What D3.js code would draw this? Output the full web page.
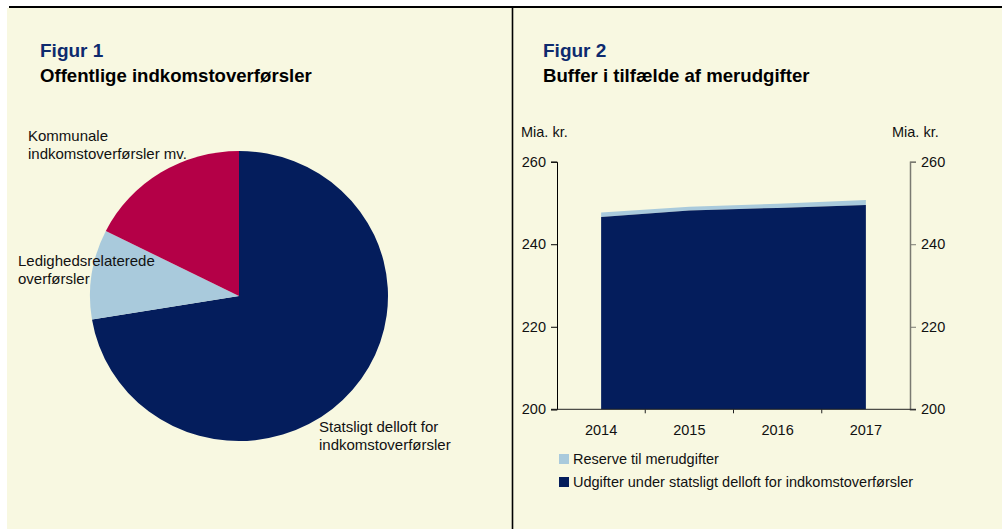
<!DOCTYPE html>
<html>
<head>
<meta charset="utf-8">
<script src="https://cdn.jsdelivr.net/npm/d3@7"></script>
<style>
body { margin: 0; background: #fff; }
text { font-family: "Liberation Sans", Arial, sans-serif; fill: #111; }
</style>
</head>
<body>
<svg id="chart" width="1002" height="529"></svg>
<script>
// Figur 1 - pie shares (pct)
var pieLabels = ['Statsligt delloft for indkomstoverførsler', 'Ledighedsrelaterede overførsler', 'Kommunale indkomstoverførsler mv.'];
var pieValues = [72.4, 10.0, 17.6];
var pieColors = ['#041d5c', '#a9cadc', '#b40047'];

// Figur 2 - area values (mia. kr.)
var years = ['2014', '2015', '2016', '2017'];
var udgifter = [246.6, 248.2, 248.8, 249.5];
var reserve = [1.1, 0.9, 1.0, 1.2];
var yTicks = [200, 220, 240, 260];

var svg = d3.select('#chart');

// background
svg.append('rect').attr('x', 7).attr('y', 8).attr('width', 995).attr('height', 521).attr('fill', '#f8f8e1');
svg.append('line').attr('x1', 9).attr('x2', 1002).attr('y1', 7).attr('y2', 7).attr('stroke', '#000').attr('stroke-width', 2);
svg.append('line').attr('x1', 512.5).attr('x2', 512.5).attr('y1', 7).attr('y2', 529).attr('stroke', '#000').attr('stroke-width', 1.6);

// titles
var titles = [
  {x: 40, fig: 'Figur 1', title: 'Offentlige indkomstoverførsler'},
  {x: 543, fig: 'Figur 2', title: 'Buffer i tilfælde af merudgifter'}
];
titles.forEach(function(t) {
  svg.append('text').attr('x', t.x).attr('y', 57).text(t.fig)
    .style('font-size', '19px').style('font-weight', 'bold').style('fill', '#0d2a6e');
  svg.append('text').attr('x', t.x).attr('y', 82).text(t.title)
    .style('font-size', '18.6px').style('font-weight', 'bold').style('fill', '#000');
});

// ---- pie ----
var pie = d3.pie().sort(null).startAngle(0).endAngle(2 * Math.PI);
var arc = d3.arc().innerRadius(0).outerRadius(149);
var pg = svg.append('g').attr('transform', 'translate(239,296) scale(1,' + (145 / 149) + ')');
pg.selectAll('path').data(pie(pieValues))
  .enter().append('path')
  .attr('d', arc)
  .attr('fill', function(d, i) { return pieColors[i]; });

var pieLabelPos = [
  {x: 319, y: 432, lines: ['Statsligt delloft for', 'indkomstoverførsler']},
  {x: 18, y: 266, lines: ['Ledighedsrelaterede', 'overførsler']},
  {x: 28, y: 141, lines: ['Kommunale', 'indkomstoverførsler mv.']}
];
pieLabelPos.forEach(function(p) {
  var t = svg.append('text').attr('x', p.x).attr('y', p.y).style('font-size', '15px');
  p.lines.forEach(function(l, i) {
    t.append('tspan').attr('x', p.x).attr('dy', i === 0 ? 0 : 17.5).text(l);
  });
});

// ---- area chart ----
var plotLeft = 557, plotRight = 910, plotTop = 161.7, plotBottom = 409.3;
var x = d3.scaleBand().domain(years).range([plotLeft, plotRight]);
var y = d3.scaleLinear().domain([200, 260]).range([plotBottom, plotTop]);

var data = years.map(function(yr, i) {
  return {year: yr, udgifter: udgifter[i], reserve: reserve[i]};
});
var stacked = d3.stack().keys(['udgifter', 'reserve'])(data);
var areaColors = ['#041d5c', '#a9cadc'];
var area = d3.area()
  .x(function(d) { return x(d.data.year) + x.bandwidth() / 2; })
  .y0(function(d) { return y(Math.max(d[0], 200)); })
  .y1(function(d) { return y(d[1]); });

svg.append('path').datum(stacked[1]).attr('d', area).attr('fill', areaColors[1]);
svg.append('path').datum(stacked[0]).attr('d', area).attr('fill', areaColors[0]);

// axes
var yLeft = d3.axisLeft(y).tickValues(yTicks).tickSize(6).tickPadding(5);
var gl = svg.append('g').attr('transform', 'translate(' + plotLeft + ',0)').call(yLeft);
gl.select('.domain').attr('stroke', '#000');
gl.selectAll('.tick line').attr('stroke', '#000');

var yRight = d3.axisRight(y).tickValues(yTicks).tickSize(6).tickPadding(5);
var gr = svg.append('g').attr('transform', 'translate(' + plotRight + ',0)').call(yRight);
gr.select('.domain').attr('stroke', '#7a7a72').attr('stroke-width', 1.5);
gr.selectAll('.tick line').attr('stroke', '#7a7a72');

[gl, gr].forEach(function(g) {
  g.selectAll('.tick text').style('font-size', '14.5px').style('font-family', '"Liberation Sans", Arial, sans-serif').attr('fill', '#111');
});

var gx = svg.append('g').attr('transform', 'translate(0,' + plotBottom + ')');
gx.append('line').attr('x1', plotLeft - 6).attr('x2', plotRight + 6).attr('y1', 0).attr('y2', 0).attr('stroke', '#222');
gx.selectAll('line.tk').data(years.slice(1))
  .enter().append('line').attr('class', 'tk')
  .attr('x1', function(d) { return x(d); }).attr('x2', function(d) { return x(d); })
  .attr('y1', 0).attr('y2', 4).attr('stroke', '#222');
gx.selectAll('text').data(years)
  .enter().append('text')
  .attr('x', function(d) { return x(d) + x.bandwidth() / 2; })
  .attr('y', 26)
  .attr('text-anchor', 'middle')
  .style('font-size', '14.5px')
  .text(function(d) { return d; });

svg.append('text').attr('x', 521).attr('y', 137).style('font-size', '14.5px').text('Mia. kr.');
svg.append('text').attr('x', 892).attr('y', 137).style('font-size', '14.5px').text('Mia. kr.');

// legend
var legendItems = [
  {label: 'Reserve til merudgifter', color: areaColors[1]},
  {label: 'Udgifter under statsligt delloft for indkomstoverførsler', color: areaColors[0]}
];
var lg = svg.append('g').attr('transform', 'translate(559,454)');
legendItems.forEach(function(d, i) {
  lg.append('rect').attr('x', 0).attr('y', i * 23).attr('width', 10).attr('height', 10).attr('fill', d.color);
  lg.append('text').attr('x', 14).attr('y', i * 23 + 9.5).style('font-size', '14.5px').text(d.label);
});
</script>
</body>
</html>
